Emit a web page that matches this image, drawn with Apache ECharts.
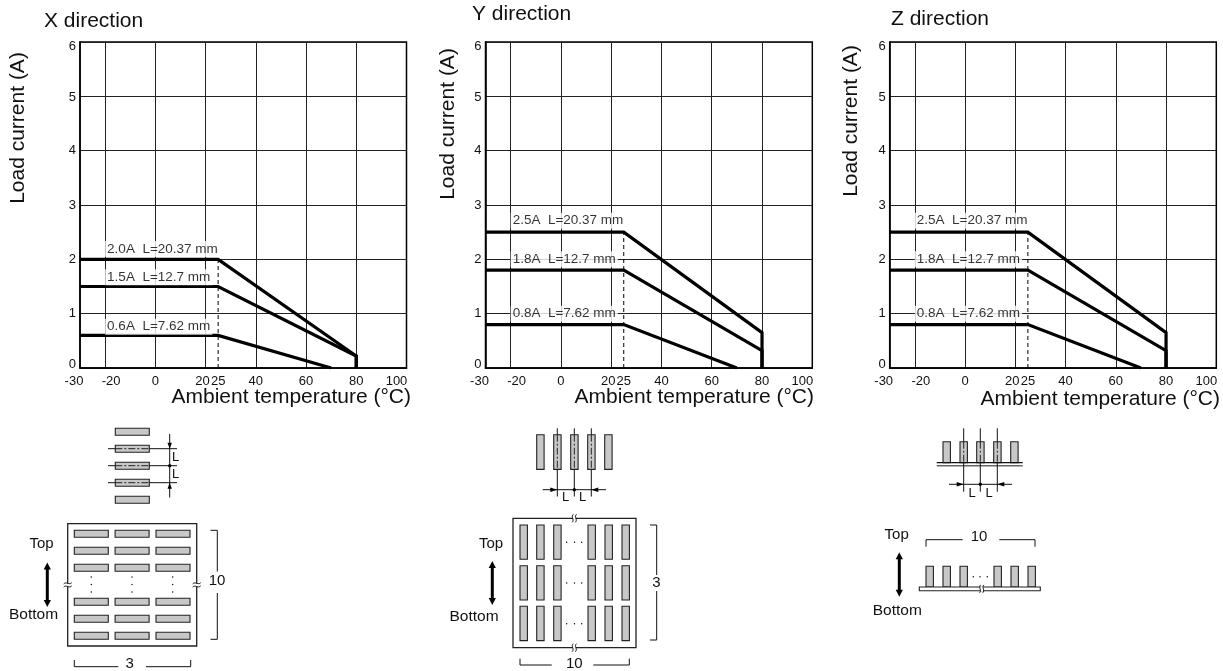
<!DOCTYPE html>
<html>
<head>
<meta charset="utf-8">
<style>html,body{margin:0;padding:0;background:#fff}#c{width:1223px;height:671px}</style>
<script src="https://cdn.jsdelivr.net/npm/echarts@6/dist/echarts.min.js"></script>
</head>
<body>
<div id="c"></div>
<script>
// ---- data ----
const directions = ['X direction', 'Y direction', 'Z direction'];
const yAxisName = 'Load current (A)';
const xAxisName = 'Ambient temperature (°C)';
const xGridValues = [-20, 0, 20, 40, 60, 80];
const xTickLabels = [-30, -20, 0, 20, 25, 40, 60, 80, 100];
const yTickLabels = [0, 1, 2, 3, 4, 5, 6];
const xRange = [-30, 100];
const yRange = [0, 6];

const xDirCurves = [
  [[-30, 2.0], [25, 2.0], [80, 0.22], [80, 0]],
  [[-30, 1.5], [25, 1.5], [80, 0.22], [80, 0]],
  [[-30, 0.6], [25, 0.6], [70, 0]]
];
const yDirCurves = [
  [[-30, 2.5], [25, 2.5], [80, 0.65], [80, 0]],
  [[-30, 1.8], [25, 1.8], [80, 0.32], [80, 0]],
  [[-30, 0.8], [25, 0.8], [70, 0]]
];
const zDirCurves = [
  [[-30, 2.5], [25, 2.5], [80, 0.65], [80, 0]],
  [[-30, 1.8], [25, 1.8], [80, 0.32], [80, 0]],
  [[-30, 0.8], [25, 0.8], [70, 0]]
];
const xDirLabels = [[-20, 2.19, '2.0A  L=20.37 mm'], [-20, 1.67, '1.5A  L=12.7 mm'], [-20, 0.76, '0.6A  L=7.62 mm']];
const yDirLabels = [[-20, 2.71, '2.5A  L=20.37 mm'], [-20, 2.0, '1.8A  L=12.7 mm'], [-20, 1.0, '0.8A  L=7.62 mm']];
const zDirLabels = [[-20, 2.71, '2.5A  L=20.37 mm'], [-20, 2.0, '1.8A  L=12.7 mm'], [-20, 1.0, '0.8A  L=7.62 mm']];
const dropLineX = 25;
const xDirDropTop = 2.0;
const yDirDropTop = 2.5;
const zDirDropTop = 2.5;

// ---- layout ----
const FONT = '"Liberation Sans", Arial, sans-serif';
const INK = '#111';
const panels = [
  {l: 80, r: 406.5, curves: xDirCurves, labels: xDirLabels, drop: xDirDropTop, title: [44, 21], yName: [18, 128], xName: [411, 397]},
  {l: 485.5, r: 812.3, curves: yDirCurves, labels: yDirLabels, drop: yDirDropTop, title: [472, 14], yName: [448, 124], xName: [814, 397]},
  {l: 889.7, r: 1216.3, curves: zDirCurves, labels: zDirLabels, drop: zDirDropTop, title: [891, 19], yName: [851, 121], xName: [1220, 399]}
];
const TOP = 42, BOTTOM = 368;
const richOf = p => ({fontFamily: FONT, fontSize: 13, color: INK, padding: p});
const xRich = {a: richOf([0, 12, 0, 0]), b: richOf([0, 0, 0, 12]), c: richOf([0, 6, 0, 0]), d: richOf([0, 20, 0, 0])};
const xTickStyleKey = {'-30': 'a', '-20': 'b', '20': 'c', '100': 'd'};
const yRich = {a: richOf([0, 0, 8, 0]), b: richOf([8, 0, 0, 0]), c: richOf([3, 0, 0, 0])};
const yTickStyleKey = {'0': 'a', '6': 'b', '5': 'c'};

const grid = [], xAxis = [], yAxis = [], series = [];
panels.forEach((p, i) => {
  grid.push({left: p.l, top: TOP, width: p.r - p.l, height: BOTTOM - TOP, show: true, borderColor: '#000', borderWidth: 1.5, backgroundColor: '#fff'});
  xAxis.push({
    type: 'value', gridIndex: i, min: xRange[0], max: xRange[1],
    axisLine: {show: true, onZero: false, lineStyle: {color: '#000', width: 1.5}},
    axisTick: {show: false, customValues: xGridValues},
    splitLine: {show: true, lineStyle: {color: '#222', width: 1}},
    axisLabel: {
      show: true, margin: 7, fontFamily: FONT, fontSize: 13, color: INK,
      customValues: xTickLabels, rich: xRich,
      formatter: v => { const k = xTickStyleKey[String(v)]; return k ? `{${k}|${v}}` : String(v); }
    }
  });
  yAxis.push({
    type: 'value', gridIndex: i, min: yRange[0], max: yRange[1], interval: 1,
    axisLine: {show: true, onZero: false, lineStyle: {color: '#000', width: 1.5}},
    axisTick: {show: false},
    splitLine: {show: true, lineStyle: {color: '#222', width: 1}},
    axisLabel: {
      margin: 4, fontFamily: FONT, fontSize: 13, color: INK, rich: yRich,
      customValues: yTickLabels,
      formatter: v => { const k = yTickStyleKey[String(v)]; return k ? `{${k}|${v}}` : String(v); }
    }
  });
  series.push({
    type: 'line', xAxisIndex: i, yAxisIndex: i, data: [[dropLineX, 0], [dropLineX, p.drop]],
    symbol: 'none', silent: true, z: 3, lineStyle: {color: '#000', width: 1, type: [4, 3]}
  });
  p.curves.forEach(c => series.push({
    type: 'line', xAxisIndex: i, yAxisIndex: i, data: c, symbol: 'none', silent: true, z: 4,
    lineStyle: {color: '#000', width: 3.2, join: 'miter'}
  }));
  series.push({
    type: 'scatter', xAxisIndex: i, yAxisIndex: i, data: p.labels, symbolSize: 0, silent: true, z: 5,
    label: {show: true, position: 'right', distance: 0, formatter: o => o.value[2], fontFamily: FONT, fontSize: 13.5, color: '#000', backgroundColor: '#fff', padding: [1, 2, 1, 2]}
  });
});

// ---- schematic drawing helpers ----
const gfx = [];
const DASH = [7, 2, 2, 2];
const line = (x1, y1, x2, y2, w = 1, c = '#111', dash) => gfx.push({type: 'line', silent: true, shape: {x1, y1, x2, y2}, style: {stroke: c, lineWidth: w, lineDash: dash}});
const rect = (x, y, width, height, fill = '#c8c8c8', lw = 1.1, stroke = '#222') => gfx.push({type: 'rect', silent: true, shape: {x, y, width, height}, style: {fill, stroke, lineWidth: lw}});
const poly = (points, fill = '#000') => gfx.push({type: 'polygon', silent: true, shape: {points}, style: {fill}});
const dot = (x, y, r = 1.7, fill = '#000') => gfx.push({type: 'circle', silent: true, shape: {cx: x, cy: y, r}, style: {fill}});
const text = (t, x, y, size, rotation = 0, align = 'center') => gfx.push({type: 'text', silent: true, x, y, rotation, style: {text: t, x: 0, y: 0, fill: INK, font: `${size}px ${FONT}`, align, verticalAlign: 'middle'}});
const curve = (x1, y1, cpx1, cpy1, cpx2, cpy2, x2, y2) => gfx.push({type: 'bezierCurve', silent: true, shape: {x1, y1, cpx1, cpy1, cpx2, cpy2, x2, y2}, style: {stroke: '#111', lineWidth: 1, fill: null}});
const arrowV = (x, y, dir) => poly([[x, y], [x - 2.2, y - dir * 6], [x + 2.2, y - dir * 6]]);
const arrowH = (x, y, dir) => poly([[x, y], [x - dir * 7, y - 2.2], [x - dir * 7, y + 2.2]]);
const dbl = (x, y1, y2) => {
  line(x, y1 + 5, x, y2 - 5, 3, '#000');
  poly([[x, y1], [x - 3.6, y1 + 7], [x + 3.6, y1 + 7]]);
  poly([[x, y2], [x - 3.6, y2 - 7], [x + 3.6, y2 - 7]]);
};
const breakH = (x, y) => { // break across a vertical edge
  gfx.push({type: 'rect', silent: true, shape: {x: x - 2, y: y - 1.5, width: 4, height: 3}, style: {fill: '#fff'}});
  [y - 1.7, y + 1.5].forEach(yy => curve(x - 4, yy + .6, x - 1.5, yy - 2.2, x + 1.5, yy + 2.2, x + 4, yy - .6));
};
const breakV = (x, y) => { // break across a horizontal edge
  gfx.push({type: 'rect', silent: true, shape: {x: x - 1.5, y: y - 2.5, width: 3, height: 5}, style: {fill: '#fff'}});
  [x - 1.6, x + 1.6].forEach(xx => curve(xx + .6, y - 4, xx - 2.2, y - 1.5, xx + 2.2, y + 1.5, xx - .6, y + 4));
};

// titles and axis names
panels.forEach((p, i) => {
  text(directions[i], p.title[0], p.title[1], 21, 0, 'left');
  text(yAxisName, p.yName[0], p.yName[1], 21, Math.PI / 2);
  text(xAxisName, p.xName[0], p.xName[1], 21, 0, 'right');
});

// --- X direction schematic ---
[428.3, 445.3, 462.3, 479.3, 496.3].forEach(y => rect(115.3, y, 34, 7));
[448.7, 465.7, 482.7].forEach(y => {
  line(108, y, 115.3, y); line(115.3, y, 149.3, y, 1, '#222', DASH); line(149.3, y, 177, y);
});
line(169.7, 434, 169.7, 497.5);
arrowV(169.7, 448.7, 1); arrowV(169.7, 482.7, -1); dot(169.7, 465.7);
text('L', 175.5, 457, 13); text('L', 175.5, 474.5, 13);
rect(67.7, 523.7, 129, 122.3, '#fff', 1.3);
[74.3, 115.1, 156].forEach(x => [530.3, 547.3, 564.3, 598.3, 615.3, 632.3].forEach(y => rect(x, y, 34, 7)));
[91.3, 132, 172.7].forEach(x => [577, 584.5, 592].forEach(y => dot(x, y, .7)));
breakH(67.7, 585); breakH(196.7, 585);
text('Top', 41.5, 544, 15); text('Bottom', 33.5, 614.5, 15.5);
dbl(47.3, 562.5, 607);
line(210.5, 530.3, 217.3, 530.3); line(217.3, 530.3, 217.3, 571.5); line(217.3, 593, 217.3, 639.3); line(210.5, 639.3, 217.3, 639.3);
text('10', 217, 581, 15);
line(74.3, 660, 74.3, 666.7); line(74.3, 666.7, 118.3, 666.7); line(146, 666.7, 190.7, 666.7); line(190.7, 660, 190.7, 666.7);
text('3', 129.7, 663.7, 15);

// --- Y direction schematic ---
[536.7, 553.7, 570.7, 587.7, 604.7].forEach(x => rect(x, 434.7, 7.4, 34.7));
[557.3, 574.3, 591.3].forEach(x => {
  line(x, 428.3, x, 434.7); line(x, 434.7, x, 469.4, 1, '#222', DASH); line(x, 469.4, x, 496.5);
});
line(542.7, 489.7, 606, 489.7);
arrowH(557.3, 489.7, 1); arrowH(591.3, 489.7, -1); dot(574.3, 489.7);
text('L', 565.5, 497, 13); text('L', 582.7, 497, 13);
rect(513, 518.3, 123, 129.4, '#fff', 1.3);
[520, 536.7, 553.7, 588, 605, 622].forEach(x => [525, 565.7, 606.3].forEach(y => rect(x, y, 7.4, 34.3)));
[566.7, 574.5, 581.7].forEach(x => [542.3, 583, 623.7].forEach(y => dot(x, y, .7)));
breakV(574.3, 518.3); breakV(574.3, 647.7);
text('Top', 491, 544, 15); text('Bottom', 474, 616.5, 15.5);
dbl(492.3, 561, 605);
line(650, 525, 656.7, 525); line(656.7, 525, 656.7, 575); line(656.7, 591, 656.7, 640); line(650, 640, 656.7, 640);
text('3', 656.3, 583.3, 15);
line(520, 658.7, 520, 665); line(520, 665, 551.7, 665); line(593.3, 665, 629.3, 665); line(629.3, 658.7, 629.3, 665);
text('10', 574.3, 664.3, 15);

// --- Z direction schematic ---
[943, 960, 976.7, 993.7, 1010.7].forEach(x => rect(x, 441.7, 7.4, 21));
line(936.7, 462.7, 1022.7, 462.7, 1.2, '#111'); line(936.7, 465.7, 1022.7, 465.7, 1.5, '#666');
[963.7, 980.3, 997.3].forEach(x => {
  line(x, 428.3, x, 441.7); line(x, 441.7, x, 462.7, 1, '#222', DASH); line(x, 462.7, x, 491.7);
});
line(949, 484.3, 1012, 484.3);
arrowH(963.7, 484.3, 1); arrowH(997.3, 484.3, -1); dot(980.3, 484.3);
text('L', 972, 493, 13); text('L', 989, 493, 13);
text('Top', 896.7, 535, 15); text('Bottom', 897.3, 611, 15.5);
dbl(899.3, 552.3, 596.7);
line(926, 539.7, 962.7, 539.7); line(926, 539.7, 926, 546.7); line(999.3, 539.7, 1035, 539.7); line(1035, 539.7, 1035, 546.7);
text('10', 979, 536.7, 15);
[926, 943, 960, 994, 1011, 1028].forEach(x => rect(x, 566.3, 7.4, 20.7));
rect(919.3, 587, 121, 3.7, '#fff', 1.1);
[973.3, 980, 987.3].forEach(x => dot(x, 576.7, .7));
breakV(981.7, 588.8);

const chart = echarts.init(document.getElementById('c'), null, {renderer: 'canvas'});
chart.setOption({
  animation: false, backgroundColor: '#fff', grid, xAxis, yAxis, series,
  graphic: {elements: gfx}
});
</script>
</body>
</html>
